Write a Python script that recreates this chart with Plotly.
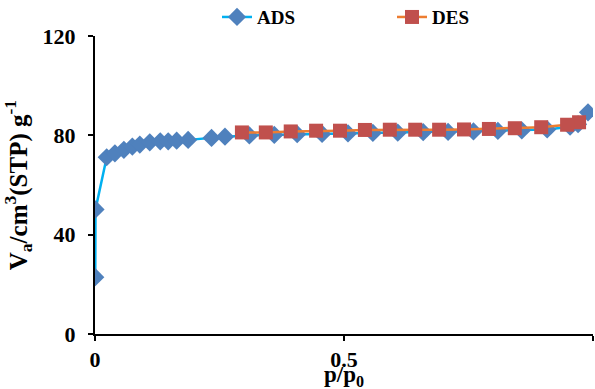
import plotly.graph_objects as go

# Adsorption branch (relative pressure, adsorbed volume)
ads_p = [0.0005, 0.001, 0.0235, 0.040, 0.058, 0.075, 0.090, 0.110, 0.131, 0.147,
         0.164, 0.187, 0.234, 0.261, 0.31, 0.36, 0.406, 0.456, 0.508, 0.558,
         0.608, 0.659, 0.709, 0.760, 0.809, 0.857, 0.908, 0.954, 0.970, 0.990]
ads_v = [22.9, 50.2, 71.2, 72.8, 74.2, 75.5, 76.3, 77.2, 77.6, 77.6,
         77.9, 78.2, 79.0, 79.5, 80.0, 80.2, 80.5, 80.6, 80.8, 81.0,
         81.1, 81.3, 81.4, 81.6, 81.8, 82.0, 82.4, 83.5, 84.5, 89.3]

# Desorption branch
des_p = [0.972, 0.948, 0.896, 0.843, 0.791, 0.741, 0.691, 0.643, 0.592, 0.542,
         0.492, 0.444, 0.393, 0.343, 0.295]
des_v = [85.3, 84.3, 83.3, 82.9, 82.6, 82.4, 82.3, 82.3, 82.3, 82.2,
         81.9, 81.9, 81.6, 81.2, 81.2]

x_ticks = [0, 0.5, 1]
x_ticktext = ["0", "0.5", "1"]
y_ticks = [0, 40, 80, 120]

FONT = "Liberation Serif, Times New Roman, serif"

fig = go.Figure()
fig.add_trace(go.Scatter(
    x=ads_p, y=ads_v, name="<b>ADS</b>", mode="lines+markers",
    line=dict(color="#00B0F0", width=2.5),
    marker=dict(symbol="diamond", size=14, color="#4F81BD"),
))
fig.add_trace(go.Scatter(
    x=des_p, y=des_v, name="<b>DES</b>", mode="lines+markers",
    line=dict(color="#ED7D31", width=2.5),
    marker=dict(symbol="square", size=14, color="#C0504D"),
))

axis_common = dict(
    showline=True, linecolor="black", linewidth=2,
    ticks="outside", tickcolor="black", ticklen=5, tickwidth=2,
    showgrid=False, zeroline=False, automargin=False,
    tickfont=dict(family=FONT, size=22, color="black"),
)

fig.update_layout(
    width=595, height=389,
    margin=dict(l=95, r=2, t=36, b=55),
    paper_bgcolor="white", plot_bgcolor="white",
    font=dict(family=FONT, color="black"),
    showlegend=True,
    legend=dict(
        orientation="h", xref="paper", x=0.245, xanchor="left",
        yref="container", y=0.956, yanchor="middle",
        font=dict(family=FONT, size=19, color="black"),
        entrywidth=130, entrywidthmode="pixels",
        bgcolor="rgba(0,0,0,0)",
    ),
    xaxis=dict(
        range=[0, 1], tickvals=x_ticks, ticktext=[f"<b>{t}</b>" for t in x_ticktext],
        **axis_common,
    ),
    yaxis=dict(
        range=[0, 120], tickvals=y_ticks, ticktext=[f"<b>{t}</b>" for t in y_ticks],
        ticklabelstandoff=8,
        title=dict(text="<b>V<sub>a</sub>/cm<sup>3</sup>(STP) g<sup>-1</sup></b>",
                   font=dict(family=FONT, size=25), standoff=8),
        **axis_common,
    ),
    annotations=[dict(
        text="<b>p/p<sub>0</sub></b>", xref="paper", yref="paper",
        x=0.5, y=-0.14, xanchor="center", yanchor="middle", showarrow=False,
        font=dict(family=FONT, size=23, color="black"),
    )],
)

fig.write_html("out.html")
